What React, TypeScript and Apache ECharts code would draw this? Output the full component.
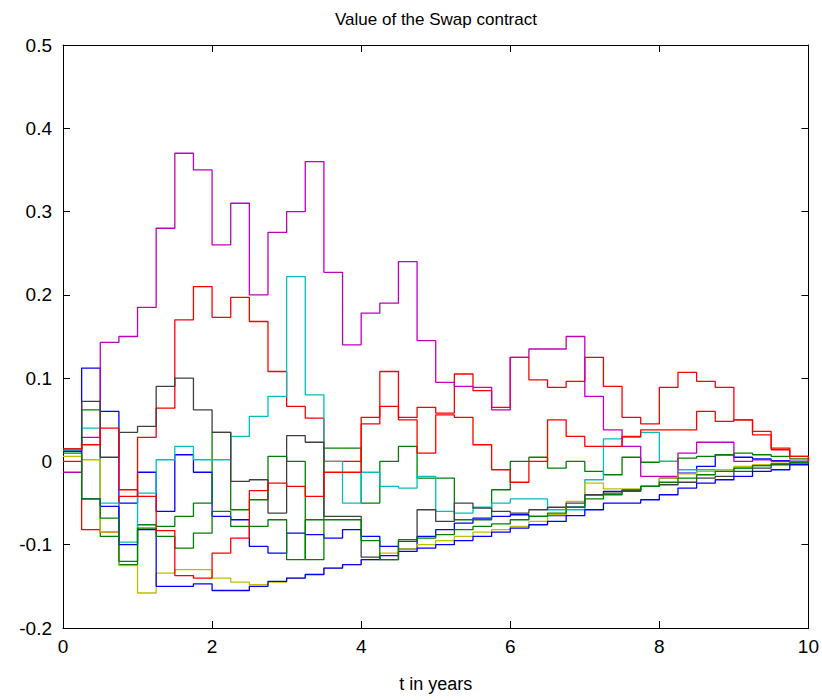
import React, { useEffect, useRef } from "react";
import * as echarts from "echarts";

// quarterly reset dates 0, 0.25, ..., 10 (years)
const payTimes: number[] = Array.from({ length: 41 }, (_, i) => i * 0.25);

const xTicks = [0, 2, 4, 6, 8, 10];
const yTicks = [-0.2, -0.1, 0, 0.1, 0.2, 0.3, 0.4, 0.5];

// value of each path during each quarter
const blueA = [0.013, 0.112, 0.06, -0.05, -0.013, -0.06, 0.008, -0.013, -0.066, -0.07, -0.102, -0.11, -0.086, -0.088, -0.092, -0.082, -0.09, -0.102, -0.105, -0.09, -0.082, -0.074, -0.068, -0.066, -0.064, -0.066, -0.065, -0.055, -0.04, -0.036, -0.034, -0.03, -0.02, -0.014, -0.006, 0.008, 0.005, 0.003, 0.001, 0.0, 0.0];
const greenA = [0.012, 0.062, -0.09, -0.124, -0.076, -0.078, -0.066, -0.05, 0.035, -0.058, -0.046, 0.006, 0.0, -0.118, 0.016, 0.016, -0.05, 0.0, 0.018, -0.02, -0.02, -0.07, -0.07, -0.034, 0.0, 0.005, -0.008, 0.0, -0.012, -0.016, 0.005, -0.001, 0.0, 0.004, 0.006, 0.008, 0.01, 0.008, 0.006, 0.003, 0.0];
const redA = [0.0, -0.082, -0.085, -0.042, 0.029, 0.064, 0.17, 0.21, 0.173, 0.197, 0.168, 0.108, 0.066, 0.052, 0.0, 0.0, 0.053, 0.108, 0.053, 0.065, 0.058, 0.105, 0.085, 0.065, 0.125, 0.098, 0.089, 0.096, 0.125, 0.09, 0.053, 0.045, 0.089, 0.107, 0.096, 0.089, 0.05, 0.036, 0.014, 0.006, 0.0];
const cyanA = [0.013, 0.04, -0.05, -0.097, -0.038, 0.002, 0.018, 0.002, 0.002, 0.03, 0.054, 0.078, 0.222, 0.08, 0.0, -0.05, -0.013, -0.03, -0.032, -0.018, -0.06, -0.062, -0.055, -0.05, -0.045, -0.045, -0.058, -0.058, -0.022, 0.027, 0.029, 0.035, 0.0, -0.01, -0.01, -0.012, -0.008, -0.005, -0.003, -0.001, 0.0];
const magentaA = [-0.013, 0.029, 0.143, 0.15, 0.185, 0.28, 0.37, 0.35, 0.26, 0.31, 0.2, 0.275, 0.3, 0.36, 0.227, 0.14, 0.178, 0.19, 0.24, 0.145, 0.095, 0.09, 0.089, 0.062, 0.125, 0.135, 0.135, 0.15, 0.078, 0.038, 0.018, -0.018, -0.018, 0.01, 0.023, 0.023, 0.0, 0.002, 0.0, 0.0, 0.0];
const yellowA = [0.006, 0.002, -0.085, -0.125, -0.158, -0.134, -0.13, -0.13, -0.14, -0.145, -0.148, -0.145, -0.14, -0.135, -0.128, -0.124, -0.118, -0.11, -0.105, -0.1, -0.095, -0.09, -0.085, -0.082, -0.078, -0.072, -0.064, -0.048, -0.026, -0.033, -0.033, -0.03, -0.02, -0.015, -0.012, -0.01, -0.006, -0.004, -0.002, -0.001, 0.0];
const grayA = [0.015, 0.072, 0.005, 0.035, 0.042, 0.09, 0.1, 0.062, 0.035, -0.024, -0.022, -0.062, 0.031, 0.023, -0.066, -0.066, -0.115, -0.118, -0.096, -0.058, -0.072, -0.05, -0.056, -0.06, -0.062, -0.058, -0.055, -0.05, -0.04, -0.038, -0.035, -0.03, -0.028, -0.025, -0.02, -0.018, -0.012, -0.008, -0.004, -0.002, 0.0];
const blueB = [0.012, -0.045, -0.054, -0.1, -0.082, -0.15, -0.15, -0.147, -0.155, -0.155, -0.15, -0.144, -0.14, -0.136, -0.128, -0.124, -0.118, -0.113, -0.108, -0.104, -0.1, -0.095, -0.09, -0.085, -0.08, -0.076, -0.072, -0.065, -0.058, -0.05, -0.05, -0.046, -0.04, -0.032, -0.026, -0.022, -0.018, -0.012, -0.01, -0.004, -0.003];
const greenB = [0.01, -0.045, -0.068, -0.12, -0.08, -0.09, -0.104, -0.086, -0.06, -0.078, -0.078, -0.07, -0.118, -0.07, -0.07, -0.07, -0.095, -0.118, -0.094, -0.092, -0.088, -0.082, -0.078, -0.075, -0.07, -0.066, -0.062, -0.055, -0.045, -0.04, -0.036, -0.03, -0.025, -0.02, -0.016, -0.012, -0.008, -0.005, -0.003, -0.001, 0.0];
const redB = [0.015, 0.02, 0.04, -0.034, -0.042, -0.083, -0.137, -0.14, -0.11, -0.092, -0.035, -0.026, -0.03, -0.042, -0.013, -0.013, 0.045, 0.066, 0.05, 0.01, 0.056, 0.053, 0.02, -0.01, -0.025, 0.0, 0.05, 0.03, 0.018, 0.018, 0.03, 0.038, 0.038, 0.038, 0.06, 0.048, 0.05, 0.032, 0.016, 0.006, 0.0];

const paths: { name: string; values: number[]; color: string }[] = [
  { name: "path 1", values: blueA, color: "#0000ff" },
  { name: "path 2", values: greenA, color: "#008000" },
  { name: "path 3", values: redA, color: "#ff0000" },
  { name: "path 4", values: cyanA, color: "#00bfbf" },
  { name: "path 5", values: magentaA, color: "#bf00bf" },
  { name: "path 6", values: yellowA, color: "#bfbf00" },
  { name: "path 7", values: grayA, color: "#404040" },
  { name: "path 8", values: blueB, color: "#0000ff" },
  { name: "path 9", values: greenB, color: "#008000" },
  { name: "path 10", values: redB, color: "#ff0000" },
];

const FONT = "Liberation Sans, Arial, sans-serif";

export default function App() {
  const ref = useRef<HTMLDivElement>(null);
  useEffect(() => {
    if (!ref.current) return;
    const chart = echarts.init(ref.current, null, { renderer: "svg" });
    const fmtY = (v: number) => String(parseFloat(v.toFixed(1)));
    const axisLine = { show: true, onZero: false, lineStyle: { color: "#000", width: 1 } };
    const tick = { show: true, inside: true, length: 7, lineStyle: { color: "#000", width: 1 } };
    chart.setOption({
      animation: false,
      backgroundColor: "#fff",
      grid: { left: 63, right: 13, top: 45, bottom: 72, containLabel: false },
      graphic: [
        {
          type: "text",
          x: 436,
          y: 19,
          style: {
            text: "Value of the Swap contract",
            fill: "#000",
            font: `17px ${FONT}`,
            textAlign: "center",
            textVerticalAlign: "middle",
          },
        },
      ],
      xAxis: [
        {
          type: "value",
          min: 0,
          max: 10,
          interval: 2,
          position: "bottom",
          axisLine,
          axisTick: tick,
          splitLine: { show: false },
          axisLabel: { color: "#000", fontSize: 19, fontFamily: FONT, margin: 9 },
          name: "t in years",
          nameLocation: "middle",
          nameGap: 47,
          nameTextStyle: { color: "#000", fontSize: 18, fontFamily: FONT },
        },
        {
          type: "value",
          min: 0,
          max: 10,
          interval: 2,
          position: "top",
          axisLine,
          axisTick: tick,
          splitLine: { show: false },
          axisLabel: { show: false },
        },
      ],
      yAxis: [
        {
          type: "value",
          min: -0.2,
          max: 0.5,
          interval: 0.1,
          position: "left",
          axisLine,
          axisTick: tick,
          splitLine: { show: false },
          axisLabel: { color: "#000", fontSize: 19, fontFamily: FONT, margin: 11, formatter: fmtY },
        },
        {
          type: "value",
          min: -0.2,
          max: 0.5,
          interval: 0.1,
          position: "right",
          axisLine,
          axisTick: tick,
          splitLine: { show: false },
          axisLabel: { show: false },
        },
      ],
      series: paths.map((p) => ({
        type: "line",
        name: p.name,
        step: "end",
        xAxisIndex: 0,
        yAxisIndex: 0,
        data: p.values.map((v, i) => [payTimes[i], v]),
        showSymbol: false,
        symbol: "none",
        silent: true,
        lineStyle: { width: 1.3, color: p.color },
        itemStyle: { color: p.color },
      })),
    });
    return () => chart.dispose();
  }, []);
  return (
    <div
      ref={ref}
      style={{ position: "absolute", left: 0, top: 0, width: 822, height: 700, background: "#fff" }}
    />
  );
}
